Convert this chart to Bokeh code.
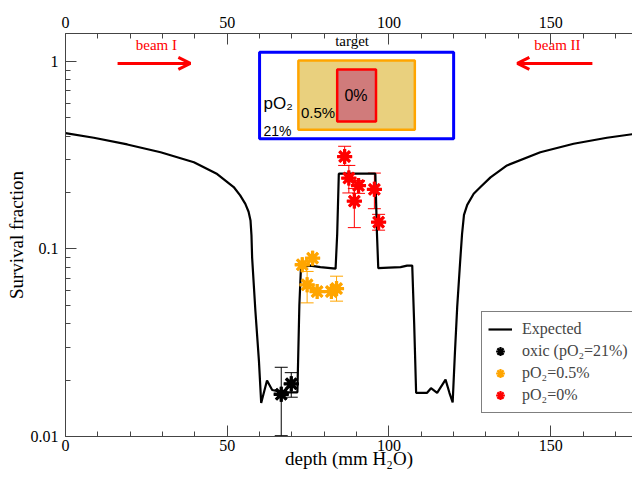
from bokeh.plotting import figure
from bokeh.models import (Range1d, LinearAxis, FixedTicker, CustomJSTickFormatter, Whisker,
                          ColumnDataSource, Legend, LegendItem, Arrow, OpenHead, TeeHead)
from bokeh.core.properties import value
from bokeh.embed import file_html
from bokeh.resources import INLINE

# ---------------- data ----------------
exp_x = [0, 8.75, 19.1, 29.4, 39.7, 46.9, 52.0, 54.0, 55.6, 56.6, 57.2, 57.5, 57.7, 58.7, 59.8, 60.5,
         62.3, 63.9, 66.0, 69.0, 71.7, 72.3, 72.8, 75.7, 78.8, 83.5, 84.0, 84.5, 95.8, 96.3, 96.7,
         100.0, 103.6, 105.6, 107.2, 107.8, 108.4, 111.8, 113.0, 114.9, 117.5, 118.7, 119.7, 120.4,
         121.1, 122.0, 122.6, 123.2, 124.2, 126.2, 128.3, 131.4, 136.5, 146.8, 157.1, 167.4, 177.7]
exp_y = [0.415, 0.392, 0.361, 0.328, 0.290, 0.251, 0.214, 0.193, 0.174, 0.158, 0.142, 0.118, 0.090,
         0.047, 0.0254, 0.0151, 0.0199, 0.0177, 0.0174, 0.0172, 0.0172, 0.05, 0.080, 0.0816, 0.080,
         0.0785, 0.12, 0.252, 0.252, 0.12, 0.079, 0.0795, 0.080, 0.0815, 0.0815, 0.04, 0.0171, 0.0171,
         0.0181, 0.0171, 0.0201, 0.0171, 0.0152, 0.028, 0.049, 0.085, 0.12, 0.152, 0.172, 0.197, 0.214,
         0.241, 0.279, 0.328, 0.364, 0.392, 0.415]

oxic_x = [66.7, 69.8]
oxic_y = [0.0168, 0.0191]
oxic_lo = [0.0101, 0.0162]
oxic_hi = [0.0234, 0.0219]

hyp_x = [73.2, 74.7, 76.4, 77.8, 82.2, 83.8]
hyp_y = [0.0824, 0.0644, 0.0893, 0.0593, 0.0593, 0.0615]
hyp_err_x = [74.7, 83.8]
hyp_err_lo = [0.0516, 0.0527]
hyp_err_hi = [0.0759, 0.0716]

anox_x = [86.3, 87.6, 89.3, 90.6, 95.5, 96.8]
anox_y = [0.311, 0.239, 0.180, 0.218, 0.208, 0.139]
anox_lo = [0.279, 0.199, 0.130, 0.198, 0.164, 0.126]
anox_hi = [0.353, 0.279, 0.210, 0.232, 0.254, 0.153]

x_ticks = [0, 50, 100, 150]
x_minor = [10 * i for i in range(0, 18)]
y_ticks = [0.01, 0.1, 1]
y_minor = [m * d for d in (0.01, 0.1) for m in range(2, 10)]

# inset annotation geometry (data coordinates)
target_box = [60, 120, 0.387, 1.121]
hypoxic_box = [72, 108, 0.432, 1.012]
anoxic_box = [84, 96, 0.479, 0.906]
beam1_arrow = [16.1, 38.6, 0.976]
beam2_arrow = [162.9, 139.7, 0.976]

# ---------------- figure ----------------
p = figure(width=632, height=473, x_range=Range1d(0, 175.3), y_range=Range1d(0.01, 1.41),
           y_axis_type="log", output_backend="svg", toolbar_location=None,
           min_border_left=65, min_border_right=0, min_border_top=33, min_border_bottom=37)
p.outline_line_color = None
p.xgrid.grid_line_color = None
p.ygrid.grid_line_color = None

serif = "Liberation Serif"
sans = "Liberation Sans"

top_axis = LinearAxis()
p.add_layout(top_axis, "above")

for ax in [p.below[0], top_axis]:
    ax.ticker = FixedTicker(ticks=x_ticks, minor_ticks=x_minor)
for ax in [p.left[0]]:
    ax.ticker = FixedTicker(ticks=y_ticks, minor_ticks=y_minor)
    ax.formatter = CustomJSTickFormatter(code="return String(Number(tick.toPrecision(2)))")

for ax in [p.below[0], top_axis, p.left[0]]:
    ax.major_tick_in = 11
    ax.major_tick_out = 0
    ax.minor_tick_in = 5
    ax.minor_tick_out = 0
    ax.axis_line_color = "#444444"
    ax.major_tick_line_color = "#444444"
    ax.minor_tick_line_color = "#444444"
    ax.major_label_text_font = serif
    ax.major_label_text_font_size = "16px"
    ax.major_label_text_color = "black"
    ax.major_label_standoff = 3
    ax.axis_label_text_font = serif
    ax.axis_label_text_font_style = "normal"
    ax.axis_label_text_font_size = "19px"
    ax.axis_label_text_color = "black"

top_axis.major_label_standoff = 6
p.left[0].major_label_standoff = 7
p.below[0].axis_label = "depth (mm H\u2082O)"
p.below[0].axis_label_standoff = -6
p.left[0].axis_label = "Survival fraction"
p.left[0].axis_label_standoff = 1

# inset
p.quad(left=[target_box[0]], right=[target_box[1]], bottom=[target_box[2]], top=[target_box[3]],
       fill_color=None, line_color="#0000FF", line_width=3)
p.quad(left=[hypoxic_box[0]], right=[hypoxic_box[1]], bottom=[hypoxic_box[2]], top=[hypoxic_box[3]],
       fill_color="#E9D07E", line_color="#FFA500", line_width=2.5)
p.quad(left=[anoxic_box[0]], right=[anoxic_box[1]], bottom=[anoxic_box[2]], top=[anoxic_box[3]],
       fill_color="#D07B7B", line_color="#FF0000", line_width=2.5)

p.text(x=[61.2], y=[0.60], text=["pO\u2082"], text_font=value(sans), text_font_size="17px",
       text_baseline="middle", text_align="left", text_color="black")
p.text(x=[61.2], y=[0.428], text=["21%"], text_font=value(sans), text_font_size="14px",
       text_baseline="middle", text_align="left", text_color="black")
p.text(x=[72.8], y=[0.537], text=["0.5%"], text_font=value(sans), text_font_size="15px",
       text_baseline="middle", text_align="left", text_color="black")
p.text(x=[89.8], y=[0.66], text=["0%"], text_font=value(sans), text_font_size="16px",
       text_baseline="middle", text_align="center", text_color="black")
p.text(x=[88.6], y=[1.29], text=["target"], text_font=value(serif), text_font_size="15px",
       text_baseline="middle", text_align="center", text_color="black")
p.text(x=[28.1, 152.1], y=[1.217, 1.217], text=["beam I", "beam II"], text_font=value(serif),
       text_font_size="15px", text_baseline="middle", text_align="center", text_color="#FF0000")

for a in (beam1_arrow, beam2_arrow):
    p.add_layout(Arrow(x_start=a[0], y_start=a[2], x_end=a[1], y_end=a[2], line_color="#FF0000",
                       line_width=3, end=OpenHead(size=12, line_color="#FF0000", line_width=3)))

# expected curve
line_r = p.line(exp_x, exp_y, line_color="black", line_width=2.2)

# error bars
def whisk(xs, lo, hi, color):
    src = ColumnDataSource(dict(x=xs, lo=lo, hi=hi))
    w = Whisker(base="x", lower="lo", upper="hi", source=src, dimension="height",
                line_color=color, line_width=1,
                upper_head=TeeHead(size=13, line_color=color, line_width=1),
                lower_head=TeeHead(size=13, line_color=color, line_width=1))
    p.add_layout(w)

whisk(oxic_x, oxic_lo, oxic_hi, "black")
whisk(hyp_err_x, hyp_err_lo, hyp_err_hi, "#FFA500")
whisk(anox_x, anox_lo, anox_hi, "#FF0000")

colors = ["black", "#FFA500", "#FF0000"]
series = [(oxic_x, oxic_y), (hyp_x, hyp_y), (anox_x, anox_y)]

# thinner copies underneath (fully covered) serve as legend symbols, so small legend stars keep arms
leg_syms = [p.scatter(sx, sy, marker="asterisk", size=15, line_width=2.2, line_color=c)
            for (sx, sy), c in zip(series, colors)]
for (sx, sy), c in zip(series, colors):
    p.scatter(sx, sy, marker="asterisk", size=15, line_width=3.3, line_color=c)

legend = Legend(items=[
    LegendItem(label="Expected", renderers=[line_r]),
    LegendItem(label="oxic (pO\u2082=21%)", renderers=[leg_syms[0]]),
    LegendItem(label="pO\u2082=0.5%", renderers=[leg_syms[1]]),
    LegendItem(label="pO\u2082=0%", renderers=[leg_syms[2]]),
], location=(416, 23))
legend.border_line_color = "black"
legend.border_line_width = 1
legend.background_fill_alpha = 1
legend.label_text_font = serif
legend.label_text_font_size = "16px"
legend.glyph_width = 24
legend.glyph_height = 22
legend.label_height = 18
legend.spacing = 0
legend.padding = 6
legend.margin = 0
legend.label_standoff = 10
p.add_layout(legend)

open("out.html", "w").write(file_html(p, INLINE))
